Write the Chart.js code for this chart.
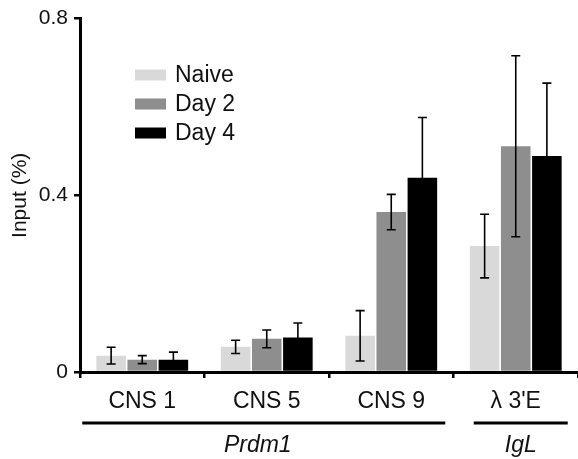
<!DOCTYPE html>
<html>
<head>
<meta charset="utf-8">
<script src="https://cdn.jsdelivr.net/npm/chart.js@4.4.1/dist/chart.umd.min.js"></script>
<style>
  html, body { margin: 0; padding: 0; background: #fff; }
  #wrap { width: 578px; height: 459px; }
</style>
</head>
<body>
<div id="wrap"><canvas id="chart" width="578" height="459"></canvas></div>
<script>
const categories = ['CNS 1', 'CNS 5', 'CNS 9', 'λ 3\'E'];
const seriesNames = ['Naive', 'Day 2', 'Day 4'];
const naive = [0.037, 0.057, 0.082, 0.285];
const day2 = [0.028, 0.075, 0.362, 0.511];
const day4 = [0.028, 0.078, 0.44, 0.489];
const naiveErr = [0.019, 0.015, 0.057, 0.072];
const day2Err = [0.009, 0.02, 0.04, 0.205];
const day4Err = [0.017, 0.033, 0.136, 0.165];
const yTicks = [0, 0.4, 0.8];
const groupNames = ['Prdm1', 'IgL'];

const FONT = "'Liberation Sans', Arial, sans-serif";
const colors = ['#d9d9d9', '#8e8e8e', '#000000'];

// error bars drawn through the y scale
const errorBars = {
    id: 'errorBars',
    afterDatasetsDraw(chart) {
        const ctx = chart.ctx;
        const y = chart.scales.y;
        chart.data.datasets.forEach(function (ds, i) {
            const meta = chart.getDatasetMeta(i);
            meta.data.forEach(function (bar, j) {
                const v = ds.data[j], e = ds.errors[j];
                const top = y.getPixelForValue(v + e);
                const bot = y.getPixelForValue(v - e);
                ctx.save();
                ctx.strokeStyle = '#000';
                ctx.lineWidth = 1.6;
                ctx.beginPath();
                ctx.moveTo(bar.x, top); ctx.lineTo(bar.x, bot);
                ctx.moveTo(bar.x - 4.5, top); ctx.lineTo(bar.x + 4.5, top);
                ctx.moveTo(bar.x - 4.5, bot); ctx.lineTo(bar.x + 4.5, bot);
                ctx.stroke();
                ctx.restore();
            });
        });
    }
};

// legend in the upper left of the plot
const boxLegend = {
    id: 'boxLegend',
    afterDraw(chart) {
        const ctx = chart.ctx;
        ctx.save();
        ctx.font = '23px ' + FONT;
        ctx.textBaseline = 'middle';
        chart.data.datasets.forEach(function (ds, i) {
            const cy = 75 + i * 29;
            ctx.fillStyle = ds.backgroundColor;
            ctx.fillRect(135, cy - 5.5, 31, 11);
            ctx.fillStyle = '#111';
            ctx.fillText(ds.label, 175, cy + 1);
        });
        ctx.restore();
    }
};

// gene brackets under the category labels
const groupBrackets = {
    id: 'groupBrackets',
    afterDraw(chart) {
        const ctx = chart.ctx;
        const x = chart.scales.x;
        const lines = [
            [x.getPixelForValue(0) - 60, x.getPixelForValue(2) + 54],
            [x.getPixelForValue(3) - 42, x.getPixelForValue(3) + 52]
        ];
        ctx.save();
        ctx.strokeStyle = '#000';
        ctx.lineWidth = 3;
        ctx.font = 'italic 23px ' + FONT;
        ctx.fillStyle = '#111';
        ctx.textAlign = 'center';
        ctx.textBaseline = 'middle';
        lines.forEach(function (l, i) {
            ctx.beginPath();
            ctx.moveTo(l[0], 423); ctx.lineTo(l[1], 423);
            ctx.stroke();
            const cx = i === 0 ? x.getPixelForValue(1) - 9 : (l[0] + l[1]) / 2;
            ctx.fillText(groupNames[i], cx, 446);
        });
        ctx.restore();
    }
};

new Chart(document.getElementById('chart'), {
    type: 'bar',
    data: {
        labels: categories,
        datasets: [
            { label: seriesNames[0], data: naive, errors: naiveErr, backgroundColor: colors[0] },
            { label: seriesNames[1], data: day2, errors: day2Err, backgroundColor: colors[1] },
            { label: seriesNames[2], data: day4, errors: day4Err, backgroundColor: colors[2] }
        ]
    },
    options: {
        responsive: false,
        animation: false,
        layout: { padding: { top: 18, right: 0, bottom: 0, left: 0 } },
        datasets: { bar: { categoryPercentage: 0.75, barPercentage: 0.95 } },
        plugins: { legend: { display: false }, tooltip: { enabled: false } },
        scales: {
            x: {
                grid: { offset: true, drawOnChartArea: false, color: '#000', lineWidth: 2.5, tickLength: 6 },
                border: { color: '#000', width: 3 },
                ticks: { color: '#111', padding: 10, font: { family: FONT, size: 23 } },
                afterFit(scale) { scale.height = 87; }
            },
            y: {
                min: 0,
                max: 0.8,
                afterBuildTicks(scale) { scale.ticks = yTicks.map(function (v) { return { value: v }; }); },
                grid: { drawOnChartArea: false, color: '#000', lineWidth: 2.5, tickLength: 6 },
                border: { color: '#000', width: 3 },
                ticks: {
                    color: '#111', padding: 6, font: { family: FONT, size: 21 },
                    callback: function (v) { return String(v); }
                },
                title: {
                    display: true, text: 'Input (%)', color: '#111',
                    padding: { top: 8, bottom: 0 }, font: { family: FONT, size: 21 }
                },
                afterFit(scale) { scale.width = 80; }
            }
        }
    },
    plugins: [errorBars, boxLegend, groupBrackets]
});
</script>
</body>
</html>
